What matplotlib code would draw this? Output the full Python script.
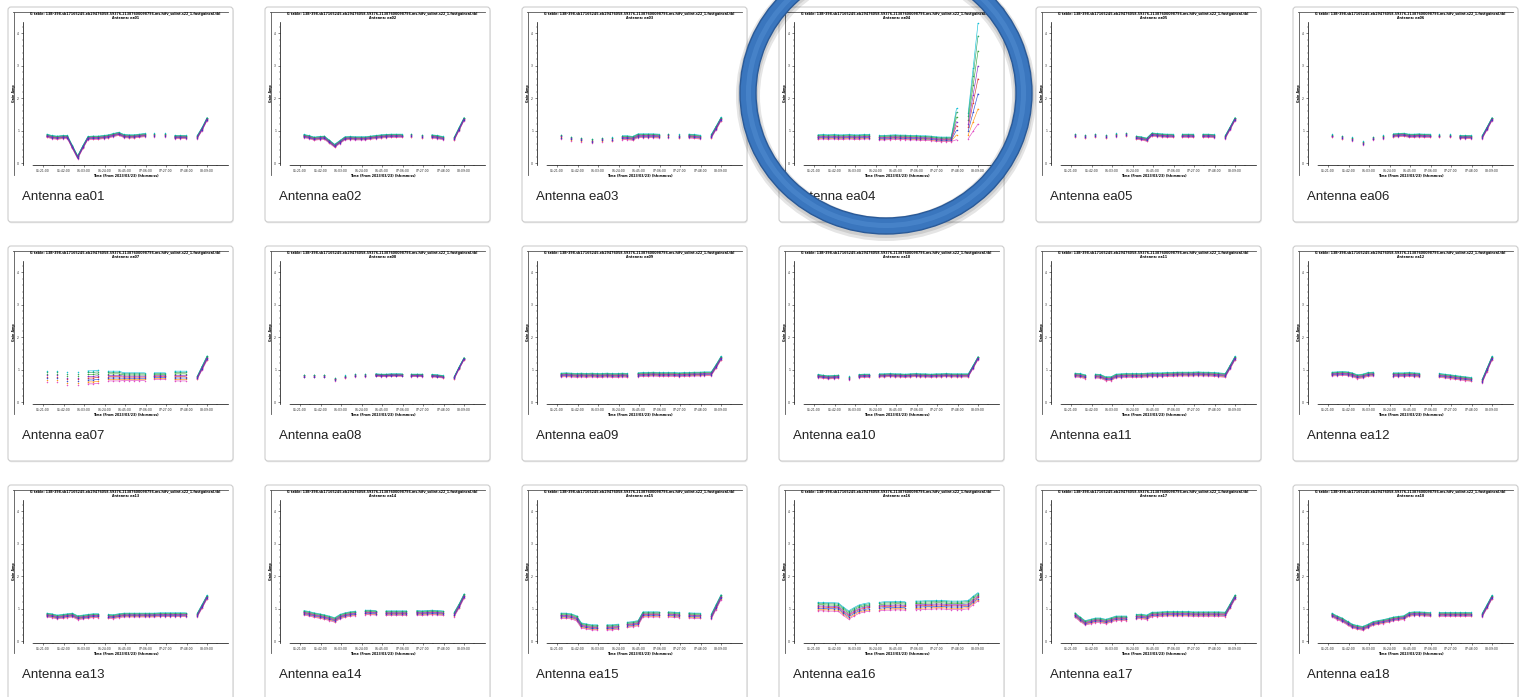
import numpy as np
import matplotlib
matplotlib.use("Agg")
import matplotlib.pyplot as plt
from matplotlib.patches import FancyBboxPatch, Annulus

n = np.nan

# ---------------- data ----------------
TIMES = [325, 330, 335.5, 341, 346, 351, 356.5, 362, 367, 372, 377.5, 383, 388, 393,
         398.5, 404, 409, 414, 419.5, 425, 430, 435, 440.5, 446, 451, 456, 461.5, 467,
         472, 479, 484, 489]
TICK_TIMES = [321, 342, 363, 384, 405, 426, 447, 468, 489]
TICK_LABELS = ["05:21:00", "05:42:00", "06:03:00", "06:24:00", "06:45:00",
               "07:06:00", "07:27:00", "07:48:00", "08:09:00"]
Y_TICKS = [0, 1, 2, 3, 4]
ANTENNAS = ["ea01", "ea02", "ea03", "ea04", "ea05", "ea06", "ea07", "ea08", "ea09",
            "ea10", "ea11", "ea12", "ea13", "ea14", "ea15", "ea16", "ea17", "ea18"]
TABLE_NAME = "G table: 13B-398.sb17165245.eb29476058.59376.21387600098796.ms.hifv_solint.s22_1.fastgaincal.tbl"
X_LABEL = "Time (From 2023/03/23) (hh:mm:ss)"
Y_LABEL = "Gain Amp"

EA01 = [0.84, 0.80, 0.78, 0.80, 0.80, 0.50, 0.18, 0.50, 0.77, 0.78, 0.78, 0.80, 0.82, 0.86, 0.90, 0.83,
        0.82, 0.82, 0.84, 0.86, n, 0.86, n, 0.86, n, 0.80, 0.80, 0.80, n, 0.80, 1.05, 1.35]
EA02 = [0.83, 0.80, 0.75, 0.77, 0.78, 0.66, 0.53, 0.65, 0.76, 0.77, 0.76, 0.76, 0.76, 0.78, 0.80, 0.82,
        0.83, 0.84, 0.84, 0.84, n, 0.85, n, 0.82, n, 0.82, 0.80, 0.77, n, 0.75, 1.05, 1.35]
EA03 = [0.81, n, 0.75, n, 0.72, n, 0.68, n, 0.72, n, 0.73, n, 0.78, 0.78, 0.76, 0.84,
        0.84, 0.84, 0.84, 0.83, n, 0.84, n, 0.82, n, 0.83, 0.82, 0.80, n, 0.82, 1.08, 1.35]
EA04 = [0.80, 0.81, 0.80, 0.81, 0.80, 0.80, 0.81, 0.80, 0.80, 0.81, 0.81, n, 0.78, 0.78, 0.79, 0.80,
        0.79, 0.79, 0.78, 0.78, 0.77, 0.77, 0.76, 0.74, 0.73, 0.73, 0.73, 1.20, n, 1.15, 1.95, 2.75]
EA05 = [0.85, n, 0.82, n, 0.85, n, 0.82, n, 0.86, n, 0.88, n, 0.78, 0.76, 0.72, 0.88,
        0.86, 0.85, 0.84, 0.84, n, 0.84, 0.84, 0.84, n, 0.84, 0.84, 0.83, n, 0.80, 1.07, 1.35]
EA06 = [0.84, n, 0.78, n, 0.74, n, 0.62, n, 0.76, n, 0.80, n, 0.85, 0.86, 0.87, 0.84,
        0.84, 0.85, 0.84, 0.84, n, 0.84, n, 0.84, n, 0.80, 0.80, 0.80, n, 0.80, 1.07, 1.35]
EA07 = [0.80, n, 0.80, n, 0.72, n, 0.72, n, 0.76, 0.76, 0.78, n, 0.80, 0.80, 0.80, 0.78,
        0.78, 0.78, 0.78, 0.78, n, 0.80, 0.80, 0.80, n, 0.80, 0.80, 0.80, n, 0.75, 1.05, 1.35]
EA08 = [0.80, n, 0.80, n, 0.80, n, 0.70, n, 0.78, n, 0.82, n, 0.82, n, 0.83, 0.82,
        0.82, 0.83, 0.83, 0.83, n, 0.82, 0.82, 0.82, n, 0.81, 0.80, 0.78, n, 0.75, 1.05, 1.33]
EA09 = [0.83, 0.84, 0.83, 0.82, 0.83, 0.82, 0.83, 0.82, 0.82, 0.83, 0.82, 0.82, 0.83, 0.82, n, 0.84,
        0.85, 0.85, 0.86, 0.85, 0.85, 0.85, 0.85, 0.84, 0.85, 0.85, 0.86, 0.86, 0.87, 0.87, 1.10, 1.35]
EA10 = [0.80, 0.78, 0.76, 0.77, 0.78, n, 0.74, n, 0.80, 0.81, 0.81, n, 0.82, 0.82, 0.83, 0.82,
        0.82, 0.81, 0.82, 0.83, 0.82, 0.82, 0.81, 0.82, 0.82, 0.83, 0.82, 0.82, 0.82, 0.82, 1.08, 1.35]
EA11 = [0.83, 0.82, 0.78, n, 0.80, 0.79, 0.72, 0.72, 0.80, 0.81, 0.82, 0.82, 0.82, 0.82, 0.83, 0.84,
        0.84, 0.84, 0.85, 0.85, 0.86, 0.86, 0.86, 0.86, 0.87, 0.86, 0.86, 0.85, 0.84, 0.82, 1.08, 1.35]
EA12 = [0.86, 0.87, 0.88, 0.87, 0.84, 0.78, 0.80, 0.85, 0.86, n, n, n, 0.84, 0.84, 0.84, 0.85,
        0.84, 0.83, n, n, n, 0.82, 0.80, 0.78, 0.76, 0.74, 0.72, 0.70, n, 0.65, 1.00, 1.35]
EA13 = [0.80, 0.78, 0.74, 0.76, 0.78, 0.80, 0.72, 0.74, 0.76, 0.78, 0.78, n, 0.76, 0.75, 0.78, 0.80,
        0.80, 0.80, 0.80, 0.80, 0.80, 0.80, 0.81, 0.81, 0.81, 0.81, 0.81, 0.81, n, 0.80, 1.07, 1.35]
EA14 = [0.87, 0.84, 0.80, 0.77, 0.74, 0.70, 0.65, 0.75, 0.80, 0.83, 0.85, n, 0.88, 0.88, 0.87, n,
        0.86, 0.86, 0.86, 0.86, 0.86, n, 0.87, 0.86, 0.87, 0.88, 0.87, 0.86, n, 0.82, 1.08, 1.38]
EA15 = [0.78, 0.78, 0.76, 0.70, 0.48, 0.45, 0.42, 0.42, n, 0.42, 0.42, 0.44, n, 0.50, 0.52, 0.55,
        0.82, 0.82, 0.82, 0.82, n, 0.82, 0.81, 0.80, n, 0.79, 0.78, 0.78, n, 0.75, 1.05, 1.35]
EA16 = [1.06, 1.06, 1.05, 1.05, 1.04, 0.92, 0.80, 0.90, 0.98, 1.02, 1.05, n, 1.06, 1.08, 1.08, 1.09,
        1.09, 1.08, n, 1.10, 1.10, 1.11, 1.11, 1.12, 1.12, 1.11, 1.10, 1.10, 1.10, 1.12, 1.25, 1.36]
EA17 = [0.80, 0.68, 0.56, 0.60, 0.64, 0.64, 0.60, 0.65, 0.70, 0.70, 0.70, n, 0.75, 0.76, 0.73, 0.82,
        0.82, 0.83, 0.84, 0.84, 0.84, 0.84, 0.84, 0.83, 0.83, 0.83, 0.83, 0.83, 0.83, 0.82, 1.08, 1.35]
EA18 = [0.80, 0.72, 0.65, 0.55, 0.46, 0.42, 0.39, 0.46, 0.54, 0.57, 0.60, 0.64, 0.68, 0.70, 0.72, 0.82,
        0.84, 0.84, 0.83, 0.82, n, 0.82, 0.82, 0.82, 0.82, 0.82, 0.82, 0.82, n, 0.80, 1.07, 1.35]

# half-width of the bundle of spw/polarisation curves around each value
SPREAD_EA04 = [0.07, 0.07, 0.07, 0.07, 0.07, 0.07, 0.07, 0.07, 0.07, 0.07, 0.07, 0.07, 0.07, 0.07,
               0.07, 0.07, 0.07, 0.07, 0.07, 0.07, 0.07, 0.07, 0.07, 0.07, 0.07, 0.07, 0.07, 0.48,
               0.0, 0.40, 0.97, 1.55]
SPREAD_EA07 = [0.17, 0.17, 0.17, 0.17, 0.19, 0.19, 0.19, 0.19, 0.20, 0.20, 0.20, 0.17, 0.15, 0.15,
               0.15, 0.12, 0.12, 0.12, 0.12, 0.12, 0.12, 0.10, 0.10, 0.10, 0.12, 0.15, 0.15, 0.15,
               0.10, 0.05, 0.06, 0.07]
SPREADS = [0.05, 0.05, 0.06, SPREAD_EA04, 0.05, 0.05, SPREAD_EA07, 0.04, 0.06,
           0.05, 0.06, 0.06, 0.06, 0.07, 0.08, 0.13, 0.07, 0.06]
SERIES = [EA01, EA02, EA03, EA04, EA05, EA06, EA07, EA08, EA09,
          EA10, EA11, EA12, EA13, EA14, EA15, EA16, EA17, EA18]

OFFSETS = [0.45, -0.7, 1.0, -0.1, -1.0, 0.75, -0.4, 0.15]
LINE_COLORS = ["#2ca02c", "#ff8c00", "#00bcd4", "#d62728", "#e040c0", "#20a060", "#1f3fd0", "#7a1fc0"]

# ---------------- layout (pixels) ----------------
W, H = 1520, 697
fig = plt.figure(figsize=(W / 100, H / 100), dpi=100)
fig.patch.set_facecolor("white")

bg = fig.add_axes([0, 0, 1, 1])
bg.set_xlim(0, W)
bg.set_ylim(H, 0)
bg.axis("off")

CARD_W, CARD_H = 225, 215
t = np.array(TIMES, dtype=float)
minor_x = [tt + 10.5 for tt in TICK_TIMES[:-1]] + [TICK_TIMES[0] - 10.5, TICK_TIMES[-1] + 10.5]

for i, (ant, vals, spr) in enumerate(zip(ANTENNAS, SERIES, SPREADS)):
    row, col = divmod(i, 6)
    x0 = 8 + 257 * col
    y0 = 7 + 239 * row
    bg.add_patch(FancyBboxPatch((x0 + 0.6, y0 + 1.3), CARD_W, CARD_H,
                                boxstyle="round,pad=0,rounding_size=3",
                                fc="#e9e9e9", ec="none", zorder=1))
    bg.add_patch(FancyBboxPatch((x0, y0), CARD_W, CARD_H,
                                boxstyle="round,pad=0,rounding_size=3",
                                fc="white", ec="#cdcdcd", lw=0.8, zorder=2))
    bg.plot([x0 + 5.5, x0 + 5.5], [y0 + 5, y0 + 168], color="#555555", lw=0.6, zorder=3)
    bg.plot([x0 + 5, x0 + 220], [y0 + 5, y0 + 5], color="#555555", lw=0.6, zorder=3)
    bg.text(x0 + 14, y0 + 190, f"Antenna {ant}", fontsize=9.5, family="Liberation Sans",
            color="#222222", ha="left", va="center", zorder=3)

    ax = fig.add_axes([(x0 + 15) / W, 1 - (y0 + 158) / H, 205 / W, 143 / H])
    ax.patch.set_alpha(0)
    ax.set_xlim(300.5, 510.5)
    ax.set_ylim(-0.06, 4.34)
    for s in ("top", "right"):
        ax.spines[s].set_visible(False)
    for s in ("left", "bottom"):
        ax.spines[s].set_linewidth(0.5)
    ax.spines["bottom"].set_bounds(311, 510.5)

    v = np.array(vals, dtype=float)
    sp = np.broadcast_to(np.asarray(spr, dtype=float), v.shape)
    for off, c in zip(OFFSETS, LINE_COLORS):
        ax.plot(t, v + off * sp, color=c, lw=0.45, marker="o", ms=1.1, mew=0, alpha=0.9)

    ax.set_xticks(TICK_TIMES, TICK_LABELS)
    ax.set_xticks(minor_x, minor=True)
    ax.set_yticks(Y_TICKS)
    ax.yaxis.set_minor_locator(matplotlib.ticker.MultipleLocator(0.2))
    ax.tick_params(which="major", length=1.6, width=0.4, labelsize=2.2, pad=1.2, colors="#222222")
    ax.tick_params(which="minor", length=0.9, width=0.3, colors="#222222")
    ax.set_xlabel(X_LABEL, fontsize=2.3, fontweight="bold", labelpad=0.6)
    ax.set_ylabel(Y_LABEL, fontsize=2.3, fontweight="bold", labelpad=0.8)
    ax.set_title(f"{TABLE_NAME}\nAntenna: {ant}", fontsize=2.3, fontweight="bold",
                 pad=2.0, linespacing=1.1)

# ---------------- highlight ring around ea04 ----------------
top = fig.add_axes([0, 0, 1, 1])
top.set_xlim(0, W)
top.set_ylim(H, 0)
top.axis("off")
top.set_zorder(20)
top.patch.set_alpha(0)
cx, cy = 886, 93
top.add_patch(Annulus((cx, cy + 3), r=(150, 145), width=24, fc="#000000", ec="none", alpha=0.10))
top.add_patch(Annulus((cx, cy + 2), r=(148, 143), width=20, fc="#000000", ec="none", alpha=0.10))
top.add_patch(Annulus((cx, cy), r=(146, 141), width=16, fc="#3a76be", ec="#2a5a98", lw=1.0))
top.add_patch(Annulus((cx, cy), r=(140, 135), width=5, fc="#4f8bd0", ec="none", alpha=0.6))

fig.savefig("out.png", dpi=100, facecolor="white")
